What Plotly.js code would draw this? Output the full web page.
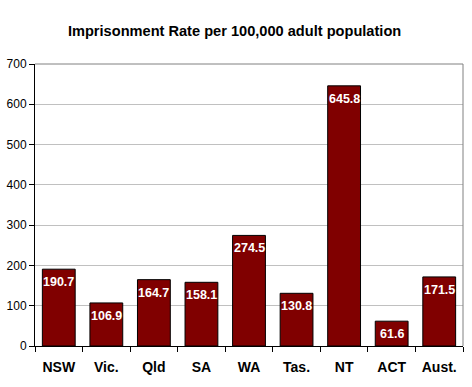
<!DOCTYPE html>
<html>
<head>
<meta charset="utf-8">
<script src="https://cdn.plot.ly/plotly-3.0.1.min.js"></script>
<style>html,body{margin:0;padding:0;background:#fff;}#chart{width:472px;height:387px;}</style>
</head>
<body>
<div id="chart"></div>
<script>
const categories = ["NSW", "Vic.", "Qld", "SA", "WA", "Tas.", "NT", "ACT", "Aust."];
const rates = [190.7, 106.9, 164.7, 158.1, 274.5, 130.8, 645.8, 61.6, 171.5];
const yTicks = [0, 100, 200, 300, 400, 500, 600, 700];
const chartTitle = "Imprisonment Rate per 100,000 adult population";

const trace = {
  type: "bar",
  x: categories,
  y: rates,
  marker: {color: "#800000", line: {color: "#000000", width: 1}},
  hoverinfo: "none"
};

const labels = categories.map((c, i) => ({
  x: c, y: rates[i], xref: "x", yref: "y",
  text: "<b>" + rates[i].toFixed(1) + "</b>",
  showarrow: false, yanchor: "top", xanchor: "center", yshift: -4,
  font: {family: "Liberation Sans, Arial, sans-serif", size: 12.5, color: "#ffffff"}
}));

const layout = {
  width: 472, height: 387,
  margin: {l: 35, r: 9, t: 64, b: 41},
  paper_bgcolor: "#ffffff",
  plot_bgcolor: "#ffffff",
  bargap: 0.31,
  showlegend: false,
  font: {family: "Liberation Sans, Arial, sans-serif", color: "#000000"},
  title: {
    text: "<b>" + chartTitle + "</b>",
    font: {size: 14.6, color: "#000000"},
    x: 0.497, xanchor: "center", xref: "container",
    y: 1 - 31/387, yanchor: "middle", yref: "container"
  },
  xaxis: {
    type: "category",
    tickson: "boundaries",
    ticks: "outside", ticklen: 5, tickcolor: "#000000", tickwidth: 1,
    showline: true, linecolor: "#000000", linewidth: 1,
    showgrid: false,
    tickfont: {size: 14, color: "#000000", weight: "bold"},
    ticklabelstandoff: 8,
    fixedrange: true
  },
  yaxis: {
    range: [0, 700],
    tickvals: yTicks,
    ticks: "outside", ticklen: 5, tickcolor: "#000000", tickwidth: 1,
    showline: true, linecolor: "#000000", linewidth: 1,
    showgrid: true, gridcolor: "#c0c0c0", gridwidth: 1,
    zeroline: false,
    tickfont: {size: 12, color: "#000000"},
    fixedrange: true
  },
  annotations: labels,
  shapes: [
    {type: "line", xref: "paper", yref: "paper", x0: 0, x1: 1, y0: 1, y1: 1, line: {color: "#808080", width: 1}},
    {type: "line", xref: "paper", yref: "paper", x0: 1, x1: 1, y0: 0, y1: 1, line: {color: "#808080", width: 1}}
  ]
};

Plotly.newPlot("chart", [trace], layout, {staticPlot: true, displayModeBar: false});
</script>
</body>
</html>
